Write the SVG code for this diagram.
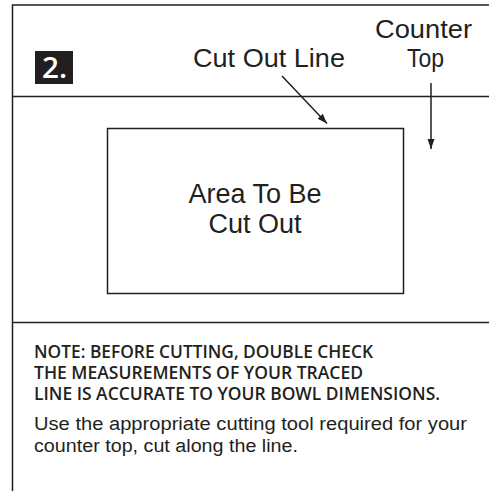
<svg xmlns="http://www.w3.org/2000/svg" width="489" height="491" viewBox="0 0 489 491">
<defs>
<style>
.ln{stroke:#231f20;stroke-width:1.5;fill:none}
.lbl{font-family:"Liberation Sans",Arial,sans-serif;font-size:26px;fill:#231f20}
.area{font-family:"Liberation Sans",Arial,sans-serif;font-size:27px;fill:#231f20}
.note{font-family:"Open Sans","Liberation Sans",sans-serif;font-size:18px;font-weight:600;fill:#231f20}
.body{font-family:"Liberation Sans",Arial,sans-serif;font-size:18px;fill:#231f20}
</style>
<marker id="ah" viewBox="0 0 10 10" refX="10" refY="5" markerWidth="10" markerHeight="10" markerUnits="userSpaceOnUse" orient="auto">
<path d="M0,1.5 L10,5 L0,8.5 Z" fill="#231f20"/>
</marker>
</defs>
<rect width="489" height="491" fill="#fff"/>
<g id="frame">
<path class="ln" d="M12.5,491 V5 H489"/>
<path class="ln" d="M12.5,96.5 H489"/>
<path class="ln" d="M12.5,322.5 H489"/>
</g>
<g id="step">
<rect x="35" y="51" width="38" height="33" fill="#231f20"/>
<text x="42" y="77.5" font-family="Open Sans,Liberation Sans,sans-serif" font-size="28" font-weight="600" fill="#fff" textLength="25" lengthAdjust="spacingAndGlyphs">2.</text>
</g>
<g id="cutoutline-label">
<text class="lbl" x="193" y="67" textLength="152" lengthAdjust="spacingAndGlyphs">Cut Out Line</text>
</g>
<g id="countertop-label">
<text class="lbl" x="375" y="38" textLength="97" lengthAdjust="spacingAndGlyphs">Counter</text>
<text class="lbl" x="407" y="67" textLength="37" lengthAdjust="spacingAndGlyphs">Top</text>
</g>
<g id="cutout-area">
<rect class="ln" x="107.5" y="128.5" width="296" height="165"/>
<text class="area" x="255" y="203" text-anchor="middle">Area To Be</text>
<text class="area" x="255" y="233" text-anchor="middle">Cut Out</text>
</g>
<g id="connectors">
<line class="ln" x1="282" y1="76" x2="327" y2="123.5" marker-end="url(#ah)"/>
<line class="ln" x1="431" y1="83" x2="431" y2="149" marker-end="url(#ah)"/>
</g>
<g id="note">
<text class="note" x="34" y="358" textLength="339" lengthAdjust="spacingAndGlyphs">NOTE: BEFORE CUTTING, DOUBLE CHECK</text>
<text class="note" x="34" y="379" textLength="329" lengthAdjust="spacingAndGlyphs">THE MEASUREMENTS OF YOUR TRACED</text>
<text class="note" x="34" y="400" textLength="406" lengthAdjust="spacingAndGlyphs">LINE IS ACCURATE TO YOUR BOWL DIMENSIONS.</text>
<text class="body" x="34" y="430" textLength="433" lengthAdjust="spacingAndGlyphs">Use the appropriate cutting tool required for your</text>
<text class="body" x="34" y="452" textLength="264" lengthAdjust="spacingAndGlyphs">counter top, cut along the line.</text>
</g>
</svg>
